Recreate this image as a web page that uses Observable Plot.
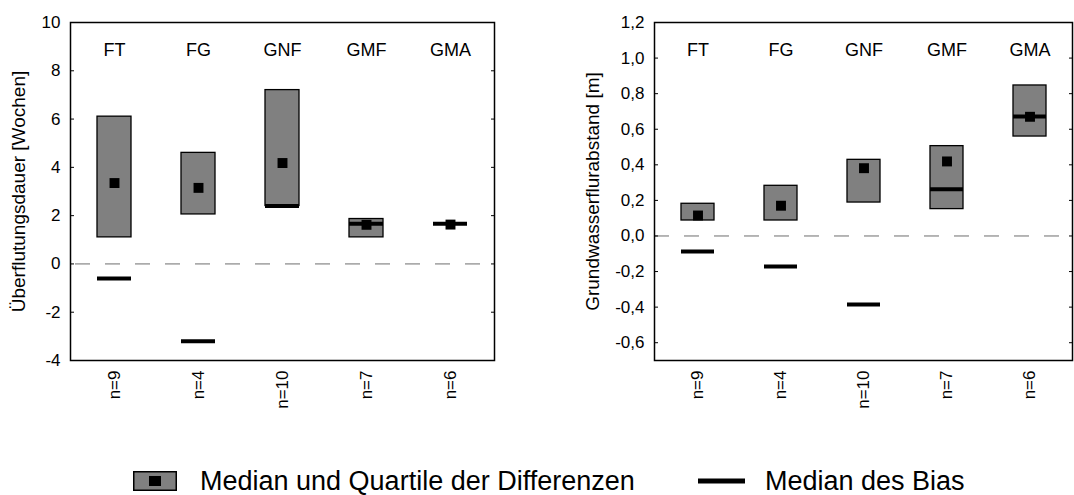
<!DOCTYPE html>
<html>
<head>
<meta charset="utf-8">
<script src="https://cdn.jsdelivr.net/npm/d3@7"></script>
<script src="https://cdn.jsdelivr.net/npm/@observablehq/plot@0.6"></script>
<style>
  html, body { margin: 0; padding: 0; background: #fff; }
  #wrap { position: relative; width: 1074px; height: 495px; overflow: hidden; font-family: "Liberation Sans", Arial, sans-serif; }
  #left, #right { position: absolute; top: 0; }
  #left { left: 0; }
  #right { left: 537px; }
  #legend { position: absolute; left: 0; top: 467px; width: 1074px; height: 28px; font-size: 27px; line-height: 28px; color: #000; }
  .item { position: absolute; top: 0; display: flex; align-items: center; height: 28px; white-space: nowrap; }
</style>
</head>
<body>
<div id="wrap">
  <div id="left"></div>
  <div id="right"></div>
  <div id="legend">
    <div class="item" style="left:133px">
      <svg width="44" height="20" style="margin-right:23px"><rect x="0.75" y="0.75" width="42.5" height="18.5" fill="#808080" stroke="#000" stroke-width="1.5"/><rect x="16" y="5" width="12" height="10" fill="#000"/></svg>
      <span>Median und Quartile der Differenzen</span>
    </div>
    <div class="item" style="left:698px">
      <svg width="47" height="20" style="margin-right:20px"><line x1="0" y1="10" x2="47" y2="10" stroke="#000" stroke-width="5"/></svg>
      <span>Median des Bias</span>
    </div>
  </div>
</div>
<script>
// ---- data ----
const categories = ["FT", "FG", "GNF", "GMF", "GMA"];
const sampleSizes = [9, 4, 10, 7, 6];

// Überflutungsdauer [Wochen]
const floodQ1 = [1.1, 2.05, 2.4, 1.1, null];
const floodQ3 = [6.1, 4.6, 7.2, 1.86, null];
const floodMedian = [3.35, 3.15, 4.18, 1.62, 1.63];
const floodBias = [-0.6, -3.2, 2.4, 1.66, 1.66];
const floodTicks = [-4, -2, 0, 2, 4, 6, 8, 10];
const floodTickLabels = ["-4", "-2", "0", "2", "4", "6", "8", "10"];

// Grundwasserflurabstand [m]
const gwQ1 = [0.087, 0.087, 0.188, 0.151, 0.559];
const gwQ3 = [0.181, 0.282, 0.428, 0.505, 0.846];
const gwMedian = [0.115, 0.17, 0.381, 0.419, 0.67];
const gwBias = [-0.087, -0.171, -0.385, 0.263, 0.672];
const gwTicks = [-0.6, -0.4, -0.2, 0, 0.2, 0.4, 0.6, 0.8, 1.0, 1.2];
const gwTickLabels = ["-0,6", "-0,4", "-0,2", "0,0", "0,2", "0,4", "0,6", "0,8", "1,0", "1,2"];

const nLabel = Object.fromEntries(categories.map((c, i) => [c, "n=" + sampleSizes[i]]));

function panel({q1, q3, median, bias, ticks, tickLabels, domain, title, marginLeft, marginRight, titleDx, dashOffset}) {
  const table = categories.map((c, i) => ({cat: c, q1: q1[i], q3: q3[i], median: median[i], bias: bias[i]}));
  const fmt = d => tickLabels[ticks.findIndex(t => Math.abs(t - d) < 1e-9)];
  return Plot.plot({
    width: 537,
    height: 420,
    marginLeft,
    marginRight,
    marginTop: 22,
    marginBottom: 60,
    style: {fontFamily: "'Liberation Sans', Arial, sans-serif", background: "white", color: "black"},
    x: {type: "band", domain: categories, padding: 0, axis: null},
    y: {domain, axis: null},
    marks: [
      Plot.ruleY([0], {stroke: "#6e6e6e", strokeWidth: 1, strokeDasharray: "15,15", strokeDashoffset: dashOffset}),
      Plot.barY(table.filter(d => d.q1 != null), {x: "cat", y1: "q1", y2: "q3", fill: "#808080", stroke: "black", strokeWidth: 1.3, insetLeft: 25, insetRight: 25}),
      Plot.tickY(table, {x: "cat", y: "bias", stroke: "black", strokeWidth: 4, insetLeft: 25, insetRight: 25}),
      Plot.dot(table, {x: "cat", y: "median", symbol: "square", r: 5.6, fill: "black", stroke: null}),
      Plot.frame({stroke: "black", strokeWidth: 1.5}),
      Plot.axisY({anchor: "left", ticks, tickSize: -4, tickPadding: 14, tickFormat: fmt, fontSize: 17, label: null}),
      Plot.axisY({anchor: "right", ticks, tickSize: -4, tickFormat: () => "", label: null}),
      Plot.axisX({anchor: "bottom", tickSize: 0, tickPadding: 10, tickRotate: -90, tickFormat: c => nLabel[c], fontSize: 17, label: null}),
      Plot.text(categories, {x: d => d, frameAnchor: "top", dy: 28, text: d => d, fontSize: 18, lineAnchor: "middle"}),
      Plot.text([title], {frameAnchor: "left", dx: titleDx, rotate: -90, text: d => d, fontSize: 19, textAnchor: "middle", lineAnchor: "middle"})
    ]
  });
}

document.getElementById("left").append(panel({
  q1: floodQ1, q3: floodQ3, median: floodMedian, bias: floodBias,
  ticks: floodTicks, tickLabels: floodTickLabels, domain: [-4, 10],
  title: "Überflutungsdauer [Wochen]", marginLeft: 70, marginRight: 43, titleDx: -52, dashOffset: 25
}));

document.getElementById("right").append(panel({
  q1: gwQ1, q3: gwQ3, median: gwMedian, bias: gwBias,
  ticks: gwTicks, tickLabels: gwTickLabels, domain: [-0.7, 1.2],
  title: "Grundwasserflurabstand [m]", marginLeft: 117, marginRight: 2, titleDx: -62, dashOffset: 0
}));
</script>
</body>
</html>
